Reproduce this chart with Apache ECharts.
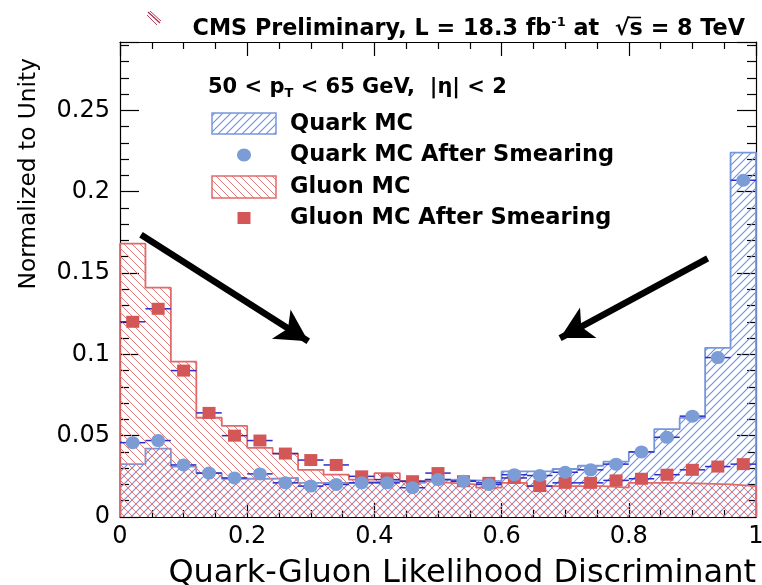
<!DOCTYPE html>
<html><head><meta charset="utf-8">
<script src="https://cdn.jsdelivr.net/npm/echarts@6.0.0/dist/echarts.min.js"></script>
<style>html,body{margin:0;padding:0;background:#fff}#c{width:762px;height:585px}</style>
</head><body><div id="c"></div>
<script>
// ---- data ----
const binEdges = [0,0.04,0.08,0.12,0.16,0.2,0.24,0.28,0.32,0.36,0.4,0.44,0.48,0.52,0.56,0.6,0.64,0.68,0.72,0.76,0.8,0.84,0.88,0.92,0.96,1.0];
const quarkMC = [0.0325,0.042,0.031,0.027,0.0235,0.0235,0.024,0.021,0.021,0.0215,0.022,0.021,0.023,0.0225,0.022,0.028,0.028,0.0295,0.0315,0.034,0.040,0.054,0.061,0.104,0.224];
const quarkSmeared = [0.0457,0.047,0.032,0.027,0.024,0.0265,0.021,0.019,0.020,0.021,0.021,0.018,0.023,0.022,0.020,0.026,0.0255,0.0275,0.029,0.0325,0.040,0.049,0.062,0.098,0.207];
const gluonMC = [0.168,0.141,0.0955,0.061,0.056,0.0425,0.039,0.029,0.026,0.023,0.027,0.022,0.021,0.020,0.018,0.021,0.019,0.019,0.019,0.018,0.021,0.021,0.0205,0.020,0.019];
const gluonSmeared = [0.120,0.128,0.090,0.064,0.050,0.047,0.039,0.035,0.032,0.025,0.023,0.022,0.027,0.022,0.021,0.024,0.019,0.021,0.021,0.0225,0.0235,0.026,0.029,0.031,0.0325];
const xTickLabels = ['0','0.2','0.4','0.6','0.8','1'];
const yTickLabels = ['0','0.05','0.1','0.15','0.2','0.25'];
const arrows = [[[0.033,0.1735],[0.296,0.108]],[[0.924,0.159],[0.692,0.110]]];
const legendNames = ['Quark MC','Quark MC After Smearing','Gluon MC','Gluon MC After Smearing'];

// ---- style ----
const BLUE_LINE = '#7797dc', BLUE_HATCH = '#6a8ee8', BLUE_MARK = '#7c9cd6';
const RED_LINE = '#e06a6a', RED_HATCH = '#e37b7b', RED_MARK = '#d35757';
const ERR = '#2c2cc8';
const FONT = 'DejaVu Sans';

function hatch(color, dir, size, lw) {
  const c = document.createElement('canvas');
  c.width = size; c.height = size;
  const g = c.getContext('2d');
  g.strokeStyle = color; g.lineWidth = lw;
  g.beginPath();
  if (dir > 0) {
    g.moveTo(-1, size + 1); g.lineTo(size + 1, -1);
    g.moveTo(-1, 1); g.lineTo(1, -1);
    g.moveTo(size - 1, size + 1); g.lineTo(size + 1, size - 1);
  } else {
    g.moveTo(-1, -1); g.lineTo(size + 1, size + 1);
    g.moveTo(size - 1, -1); g.lineTo(size + 1, 1);
    g.moveTo(-1, size - 1); g.lineTo(1, size + 1);
  }
  g.stroke();
  return c;
}
const blueHatch = {image: hatch(BLUE_HATCH, 1, 8, 1.1), repeat: 'repeat'};
const redHatch = {image: hatch(RED_HATCH, -1, 8, 1), repeat: 'repeat'};

function stepData(vals) {
  const d = [[binEdges[0], 0]];
  vals.forEach((v, i) => d.push([binEdges[i], v]));
  d.push([binEdges[vals.length], vals[vals.length - 1]]);
  d.push([binEdges[vals.length], 0]);
  return d;
}
function centerData(vals) {
  return vals.map((v, i) => [(binEdges[i] + binEdges[i + 1]) / 2, v, binEdges[i], binEdges[i + 1]]);
}
function errRender(params, api) {
  const y = api.value(1);
  const p1 = api.coord([api.value(2), y]);
  const p2 = api.coord([api.value(3), y]);
  return {type: 'line', shape: {x1: p1[0], y1: p1[1], x2: p2[0], y2: p2[1]},
          style: {stroke: ERR, lineWidth: 1.5}};
}

const YMAX = 0.292;
function axisX(extra) {
  return Object.assign({type: 'value', min: 0, max: 1, interval: 0.2,
    axisLine: {show: true, onZero: false, lineStyle: {color: '#000', width: 1.2}},
    axisTick: {show: true, inside: true, length: 14, lineStyle: {color: '#000', width: 1.2}},
    minorTick: {show: true, splitNumber: 4, length: 7, lineStyle: {color: '#000', width: 1.2}},
    splitLine: {show: false}}, extra);
}
function axisY(extra) {
  return Object.assign({type: 'value', min: 0, max: YMAX, interval: 0.05,
    axisLine: {show: true, onZero: false, lineStyle: {color: '#000', width: 1.2}},
    axisTick: {show: true, inside: true, length: 19, lineStyle: {color: '#000', width: 1.2}},
    minorTick: {show: true, splitNumber: 5, length: 9, lineStyle: {color: '#000', width: 1.2}},
    splitLine: {show: false}}, extra);
}

const chart = echarts.init(document.getElementById('c'), null, {renderer: 'canvas'});
chart.setOption({
  animation: false,
  backgroundColor: '#fff',
  grid: {left: 120, right: 6, top: 42, bottom: 68, containLabel: false, outerBoundsMode: 'none'},
  xAxis: [
    axisX({position: 'bottom',
      name: 'Quark-Gluon Likelihood Discriminant', nameLocation: 'end', nameGap: 0,
      nameTextStyle: {fontFamily: FONT, fontSize: 32, color: '#000', align: 'right', verticalAlign: 'top', padding: [41, 0, 0, 0]},
      axisLabel: {show: true, margin: 8, fontFamily: FONT, fontSize: 24, color: '#000',
        formatter: v => xTickLabels[Math.round(v / 0.2)] || ''}}),
    axisX({position: 'top', axisLabel: {show: false}})
  ],
  yAxis: [
    axisY({position: 'left',
      axisLabel: {show: true, margin: 10, fontFamily: FONT, fontSize: 24, color: '#000', showMaxLabel: false,
        formatter: v => { const k = Math.round(v / 0.05); return Math.abs(k * 0.05 - v) < 1e-9 ? (yTickLabels[k] || '') : ''; }}}),
    axisY({position: 'right', axisLabel: {show: false}})
  ],
  graphic: [
    {type: 'text', x: 745, y: 29, style: {
      text: 'CMS Preliminary, L = 18.3 fb{sup|-1} at  √s = 8 TeV',
      fontFamily: FONT, fontWeight: 'bold', fontSize: 22.3, fill: '#000', align: 'right', verticalAlign: 'middle',
      rich: {sup: {fontFamily: FONT, fontWeight: 'bold', fontSize: 13, fill: '#000', padding: [0, 0, 12, 0]}}}},
    {type: 'line', shape: {x1: 627, y1: 17.5, x2: 641, y2: 17.5}, style: {stroke: '#000', lineWidth: 1.5}},
    {type: 'text', x: 208, y: 88, style: {
      text: '50 < p{sub|T} < 65 GeV,  |η| < 2',
      fontFamily: FONT, fontWeight: 'bold', fontSize: 21, fill: '#000', align: 'left', verticalAlign: 'middle',
      rich: {sub: {fontFamily: FONT, fontWeight: 'bold', fontSize: 13, fill: '#000', padding: [12, 0, 0, 0]}}}},
    {type: 'text', x: 29, y: 58, rotation: Math.PI / 2, style: {
      text: 'Normalized to Unity', fontFamily: FONT, fontSize: 23.3, fill: '#000', align: 'right', verticalAlign: 'middle'}},
    // legend
    {type: 'rect', shape: {x: 212, y: 113, width: 64, height: 21}, style: {fill: blueHatch, stroke: BLUE_LINE, lineWidth: 1.5}},
    {type: 'ellipse', shape: {cx: 244, cy: 155, rx: 7, ry: 6.5}, style: {fill: BLUE_MARK}},
    {type: 'rect', shape: {x: 212, y: 176, width: 64, height: 22}, style: {fill: redHatch, stroke: RED_LINE, lineWidth: 1.5}},
    {type: 'rect', shape: {x: 237.5, y: 212, width: 13, height: 12}, style: {fill: RED_MARK}},
    {type: 'text', x: 290, y: 124, style: {text: legendNames[0], fontFamily: FONT, fontWeight: 'bold', fontSize: 22.5, fill: '#000', verticalAlign: 'middle'}},
    {type: 'text', x: 290, y: 155, style: {text: legendNames[1], fontFamily: FONT, fontWeight: 'bold', fontSize: 22.5, fill: '#000', verticalAlign: 'middle'}},
    {type: 'text', x: 290, y: 187, style: {text: legendNames[2], fontFamily: FONT, fontWeight: 'bold', fontSize: 22.5, fill: '#000', verticalAlign: 'middle'}},
    {type: 'text', x: 290, y: 218, style: {text: legendNames[3], fontFamily: FONT, fontWeight: 'bold', fontSize: 22.5, fill: '#000', verticalAlign: 'middle'}},
    // small red mark at top-left
    {type: 'line', shape: {x1: 148, y1: 12, x2: 160, y2: 23}, style: {stroke: '#a8284a', lineWidth: 1.2}},
    {type: 'line', shape: {x1: 150, y1: 11, x2: 161, y2: 21}, style: {stroke: '#b8405e', lineWidth: 1}},
    {type: 'line', shape: {x1: 147, y1: 15, x2: 157, y2: 25}, style: {stroke: '#b8405e', lineWidth: 1}}
  ],
  series: [
    {name: legendNames[0], type: 'line', step: 'end', symbol: 'none', data: stepData(quarkMC), z: 2,
     lineStyle: {color: BLUE_LINE, width: 1.8}, areaStyle: {color: blueHatch, opacity: 1}},
    {name: legendNames[2], type: 'line', step: 'end', symbol: 'none', data: stepData(gluonMC), z: 3,
     lineStyle: {color: RED_LINE, width: 1.8}, areaStyle: {color: redHatch, opacity: 1}},
    {type: 'custom', renderItem: errRender, data: centerData(gluonSmeared), z: 4, silent: true},
    {type: 'custom', renderItem: errRender, data: centerData(quarkSmeared), z: 4, silent: true},
    {name: legendNames[3], type: 'scatter', symbol: 'rect', symbolSize: [13, 12], data: centerData(gluonSmeared), z: 5,
     itemStyle: {color: RED_MARK, opacity: 1}},
    {name: legendNames[1], type: 'scatter', symbol: 'circle', symbolSize: [14, 13], data: centerData(quarkSmeared), z: 6,
     itemStyle: {color: BLUE_MARK, opacity: 1}},
    {type: 'line', data: [], z: 7, silent: true,
     markLine: {silent: true, symbol: ['none', 'arrow'], symbolSize: [26, 32], animation: false,
       label: {show: false}, lineStyle: {color: '#000', width: 6.5, type: 'solid'},
       data: arrows.map(a => [{coord: a[0]}, {coord: a[1]}])}}
  ]
});
</script></body></html>
